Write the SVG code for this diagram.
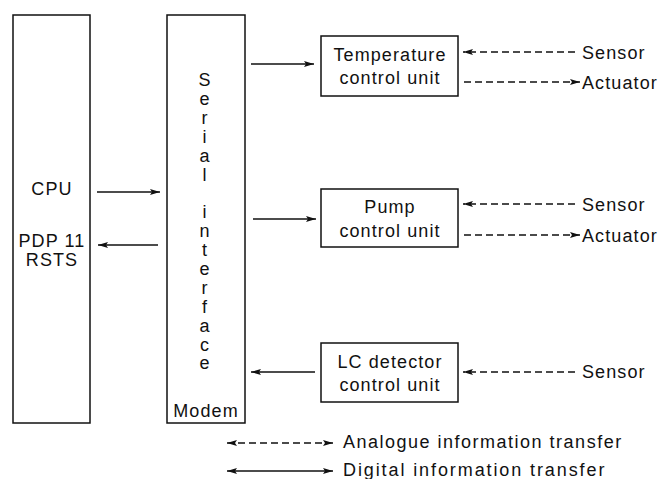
<svg xmlns="http://www.w3.org/2000/svg" width="661" height="479" viewBox="0 0 661 479">
<defs>
<marker id="ah" viewBox="0 0 10 6" refX="10" refY="3" markerWidth="10" markerHeight="6" markerUnits="userSpaceOnUse" orient="auto-start-reverse">
<path d="M0,0 L10,3 L0,6 L2,3 Z" fill="#111"/>
</marker>
<style>
.box{fill:#fff;stroke:#111;stroke-width:1.5}
.t{font-family:"Liberation Sans",Arial,sans-serif;font-size:18px;fill:#111;letter-spacing:1.1px}
.lg{letter-spacing:1.5px}
.lg2{letter-spacing:1.9px}
.m{text-anchor:middle}
.ln{fill:none;stroke:#111;stroke-width:1.4}
.d{stroke-dasharray:7,4}
</style>
</defs>
<g id="cpu">
<rect class="box" x="13" y="15" width="77" height="408"/>
<text class="t m" x="52" y="195">CPU</text>
<text class="t m" x="52" y="247">PDP 11</text>
<text class="t m" x="52" y="266">RSTS</text>
</g>
<g id="serial">
<rect class="box" x="167" y="15" width="78" height="408"/>
<text class="t m" x="205" y="86"><tspan x="205">S</tspan><tspan x="205" dy="18.9">e</tspan><tspan x="205" dy="18.9">r</tspan><tspan x="205" dy="18.9">i</tspan><tspan x="205" dy="18.9">a</tspan><tspan x="205" dy="18.9">l</tspan><tspan x="205" dy="37.8">i</tspan><tspan x="205" dy="18.9">n</tspan><tspan x="205" dy="18.9">t</tspan><tspan x="205" dy="18.9">e</tspan><tspan x="205" dy="18.9">r</tspan><tspan x="205" dy="18.9">f</tspan><tspan x="205" dy="18.9">a</tspan><tspan x="205" dy="18.9">c</tspan><tspan x="205" dy="18.9">e</tspan></text>
<text class="t m" x="206" y="417">Modem</text>
</g>
<g id="temp">
<rect class="box" x="321" y="36" width="137" height="60"/>
<text class="t m" x="390" y="61">Temperature</text>
<text class="t m" x="390" y="84">control unit</text>
</g>
<g id="pump">
<rect class="box" x="321" y="189" width="137" height="58"/>
<text class="t m" x="390" y="213">Pump</text>
<text class="t m" x="390" y="237">control unit</text>
</g>
<g id="lc">
<rect class="box" x="321" y="343" width="137" height="59"/>
<text class="t m" x="390" y="368">LC detector</text>
<text class="t m" x="390" y="391">control unit</text>
</g>
<g id="labels">
<text class="t" x="582" y="59">Sensor</text>
<text class="t" x="582" y="89">Actuator</text>
<text class="t" x="582" y="211">Sensor</text>
<text class="t" x="582" y="242">Actuator</text>
<text class="t" x="582" y="378">Sensor</text>
<text class="t lg" x="343" y="448">Analogue information transfer</text>
<text class="t lg2" x="343" y="476">Digital information transfer</text>
</g>
<g id="connectors">
<line class="ln" x1="97" y1="192" x2="160" y2="192" marker-end="url(#ah)"/>
<line class="ln" x1="158" y1="245" x2="98" y2="245" marker-end="url(#ah)"/>
<line class="ln" x1="251" y1="64" x2="314" y2="64" marker-end="url(#ah)"/>
<line class="ln" x1="253" y1="219" x2="316" y2="219" marker-end="url(#ah)"/>
<line class="ln" x1="315" y1="372" x2="251" y2="372" marker-end="url(#ah)"/>
<line class="ln d" x1="575" y1="52" x2="463" y2="52" marker-end="url(#ah)"/>
<line class="ln d" x1="464" y1="82" x2="580" y2="82" marker-end="url(#ah)"/>
<line class="ln d" x1="575" y1="204" x2="463" y2="204" marker-end="url(#ah)"/>
<line class="ln d" x1="464" y1="235" x2="580" y2="235" marker-end="url(#ah)"/>
<line class="ln d" x1="575" y1="372" x2="463" y2="372" marker-end="url(#ah)"/>
<line class="ln d" x1="227" y1="443" x2="333" y2="443" marker-start="url(#ah)" marker-end="url(#ah)"/>
<line class="ln" x1="227" y1="471" x2="333" y2="471" marker-start="url(#ah)" marker-end="url(#ah)"/>
</g>
</svg>
